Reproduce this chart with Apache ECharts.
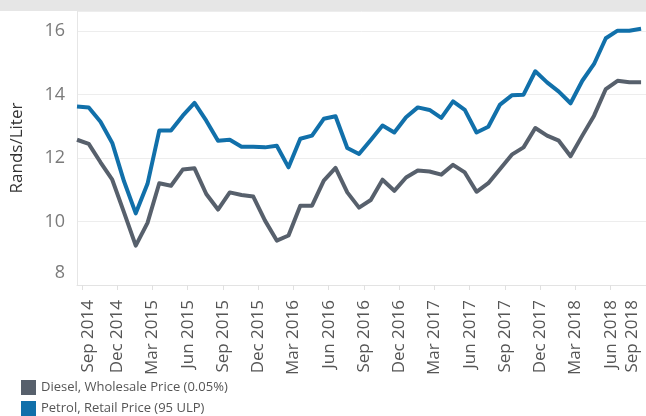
<!DOCTYPE html>
<html>
<head>
<meta charset="utf-8">
<script src="https://cdn.jsdelivr.net/npm/echarts@6/dist/echarts.min.js"></script>
<style>
    html, body { margin: 0; padding: 0; background: #fff; }
    #chart { width: 646px; height: 416px; }
</style>
</head>
<body>
<div id="chart"></div>
<script>
const months = [
    'Aug 2014', 'Sep 2014', 'Oct 2014', 'Nov 2014', 'Dec 2014',
    'Jan 2015', 'Feb 2015', 'Mar 2015', 'Apr 2015', 'May 2015', 'Jun 2015', 'Jul 2015', 'Aug 2015', 'Sep 2015', 'Oct 2015', 'Nov 2015', 'Dec 2015',
    'Jan 2016', 'Feb 2016', 'Mar 2016', 'Apr 2016', 'May 2016', 'Jun 2016', 'Jul 2016', 'Aug 2016', 'Sep 2016', 'Oct 2016', 'Nov 2016', 'Dec 2016',
    'Jan 2017', 'Feb 2017', 'Mar 2017', 'Apr 2017', 'May 2017', 'Jun 2017', 'Jul 2017', 'Aug 2017', 'Sep 2017', 'Oct 2017', 'Nov 2017', 'Dec 2017',
    'Jan 2018', 'Feb 2018', 'Mar 2018', 'Apr 2018', 'May 2018', 'Jun 2018', 'Jul 2018', 'Aug 2018'
]

const diesel = [
    12.58, 12.45, 11.87, 11.32, 10.29, 9.24, 9.96, 11.21, 11.13, 11.64,
    11.68, 10.87, 10.38, 10.92, 10.84, 10.79, 10.03, 9.40, 9.56, 10.50,
    10.50, 11.29, 11.69, 10.92, 10.44, 10.68, 11.32, 10.97, 11.39, 11.61,
    11.58, 11.48, 11.79, 11.55, 10.94, 11.21, 11.66, 12.11, 12.34, 12.95,
    12.71, 12.55, 12.06, 12.71, 13.34, 14.18, 14.44, 14.39, 14.39
]

const petrol = [
    13.63, 13.60, 13.15, 12.48, 11.27, 10.26, 11.19, 12.87, 12.87, 13.34,
    13.74, 13.18, 12.55, 12.58, 12.36, 12.36, 12.34, 12.39, 11.71, 12.61,
    12.71, 13.24, 13.32, 12.32, 12.13, 12.57, 13.03, 12.81, 13.29, 13.60,
    13.52, 13.27, 13.79, 13.52, 12.81, 12.99, 13.69, 13.98, 14.00, 14.74,
    14.39, 14.10, 13.73, 14.44, 14.97, 15.78, 16.02, 16.02, 16.08
]

const tickLabels = [
    'Sep 2014', 'Dec 2014', 'Mar 2015', 'Jun 2015', 'Sep 2015', 'Dec 2015',
    'Mar 2016', 'Jun 2016', 'Sep 2016', 'Dec 2016', 'Mar 2017', 'Jun 2017',
    'Sep 2017', 'Dec 2017', 'Mar 2018', 'Jun 2018', 'Sep 2018'
]

const seriesNames = ['Diesel, Wholesale Price (0.05%)', 'Petrol, Retail Price (95 ULP)']

const MON = ['Jan', 'Feb', 'Mar', 'Apr', 'May', 'Jun', 'Jul', 'Aug', 'Sep', 'Oct', 'Nov', 'Dec']
// prices are recorded part-way through the month
const DAY_POS = 0.58
const FONT = 'Open Sans'

function monthValue(label) {
    const [m, y] = label.split(' ')
    return (Number(y) - 2014) * 12 + MON.indexOf(m)
}

const tickValues = tickLabels.map(monthValue)

function toPoints(values) {
    return months.map((m, i) => [monthValue(m) + DAY_POS, values[i]])
}

const myChart = echarts.init(document.getElementById('chart'))

const option = {
    animation: false,
    backgroundColor: '#fff',
    graphic: [
        {
            type: 'rect',
            left: 0,
            top: 0,
            shape: { width: 646, height: 11 },
            style: { fill: '#e6e6e6' },
            silent: true,
        },
    ],
    grid: {
        left: 77,
        right: -3,
        top: 11,
        bottom: 131,
    },
    legend: {
        orient: 'vertical',
        left: 21,
        top: 380,
        height: 60,
        padding: 0,
        icon: 'rect',
        itemWidth: 15,
        itemHeight: 15,
        itemGap: 6,
        textStyle: {
            fontFamily: FONT,
            fontSize: 13,
            lineHeight: 15,
            color: '#555',
        },
        data: seriesNames,
    },
    xAxis: {
        type: 'value',
        min: monthValue(months[0]) + DAY_POS,
        max: monthValue(tickLabels[tickLabels.length - 1]),
        axisLine: {
            show: true,
            lineStyle: { color: '#e3e3e3' },
        },
        axisTick: {
            show: true,
            customValues: tickValues,
            length: 5,
            lineStyle: { color: '#e0e0e0' },
        },
        axisLabel: {
            customValues: tickValues,
            rotate: 90,
            margin: 15,
            fontFamily: FONT,
            fontSize: 17,
            color: '#555',
            formatter: function (v) {
                const idx = tickValues.indexOf(v)
                const text = idx >= 0 ? tickLabels[idx] : ''
                if (idx === 0) return '{first|' + text + '}'
                if (idx === tickValues.length - 1) return '{last|' + text + '}'
                return text
            },
            rich: {
                first: { fontFamily: FONT, fontSize: 17, color: '#555', padding: [12, 0, 0, 0] },
                last: { fontFamily: FONT, fontSize: 17, color: '#555', padding: [0, 0, 28, 0] },
            },
        },
        splitLine: { show: false },
    },
    yAxis: {
        type: 'value',
        min: 8,
        max: 16.64,
        interval: 2,
        name: 'Rands/Liter',
        nameLocation: 'middle',
        nameGap: 51,
        nameTextStyle: {
            fontFamily: FONT,
            fontSize: 17,
            color: '#333',
        },
        axisLine: {
            show: true,
            lineStyle: { color: '#e6e6e6' },
        },
        axisTick: { show: false },
        axisLabel: {
            fontFamily: FONT,
            fontSize: 18,
            color: '#7a7a7a',
            margin: 12,
            showMaxLabel: false,
            formatter: function (v) {
                if (v % 2 !== 0) return ''
                if (v === 8) return '{low|8}'
                return String(v)
            },
            rich: {
                low: { fontFamily: FONT, fontSize: 18, color: '#7a7a7a', padding: [0, 0, 24, 0] },
            },
        },
        splitLine: {
            lineStyle: { color: '#ededed' },
        },
    },
    series: [
        {
            name: seriesNames[0],
            type: 'line',
            data: toPoints(diesel),
            symbol: 'none',
            lineStyle: { width: 4, color: '#57606c', join: 'round' },
            itemStyle: { color: '#57606c' },
        },
        {
            name: seriesNames[1],
            type: 'line',
            data: toPoints(petrol),
            symbol: 'none',
            lineStyle: { width: 4, color: '#1170aa', join: 'round' },
            itemStyle: { color: '#1170aa' },
        },
    ],
}

myChart.setOption(option)
</script>
</body>
</html>
